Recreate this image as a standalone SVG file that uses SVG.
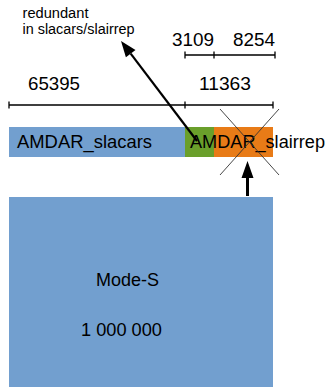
<svg xmlns="http://www.w3.org/2000/svg" width="329" height="387" viewBox="0 0 329 387">
<defs>
<style>
.t{font-family:"Liberation Sans",Arial,sans-serif;fill:#000}
.big{font-size:17.5px}
.sm{font-size:14px}
.dim{stroke:#000;stroke-width:1.3;fill:none}
.cross{stroke:#333;stroke-width:0.9}
.head{fill:#000}
</style>
</defs>
<rect width="329" height="387" fill="#fff"/>
<g id="mode-s">
<rect x="9" y="197" width="264" height="195" fill="#729fcf"/>
<text class="t big" x="96" y="285.5" textLength="63" lengthAdjust="spacingAndGlyphs">Mode-S</text>
<text class="t big" x="81" y="336" textLength="81" lengthAdjust="spacingAndGlyphs">1 000 000</text>
</g>
<g id="slacars">
<rect x="9" y="127" width="176" height="30" fill="#729fcf"/>
<text class="t big" x="17" y="147.5" textLength="135" lengthAdjust="spacingAndGlyphs">AMDAR_slacars</text>
</g>
<g id="overlap">
<rect x="185" y="127" width="29" height="30" fill="#6a9f2b"/>
</g>
<g id="slairrep">
<rect x="214" y="127" width="59" height="30" fill="#e87b17"/>
<text class="t big" x="190" y="147.5" textLength="135" lengthAdjust="spacingAndGlyphs">AMDAR_slairrep</text>
<line class="cross" x1="220" y1="109" x2="279" y2="175"/>
<line class="cross" x1="279" y1="109" x2="220" y2="175"/>
</g>
<g id="dimensions">
<path class="dim" d="M9,105 H273 M9,101.5 V108.5 M185,101.5 V108.5 M273,101.5 V108.5"/>
<path class="dim" d="M185,55 H275 M185,51.5 V58.5 M214,51.5 V58.5 M275,51.5 V58.5"/>
<text class="t big" x="28" y="90" textLength="52" lengthAdjust="spacingAndGlyphs">65395</text>
<text class="t big" x="199" y="90" textLength="52" lengthAdjust="spacingAndGlyphs">11363</text>
<text class="t big" x="172" y="46" textLength="42" lengthAdjust="spacingAndGlyphs">3109</text>
<text class="t big" x="233" y="46" textLength="42" lengthAdjust="spacingAndGlyphs">8254</text>
</g>
<g id="note">
<text class="t sm" x="22.5" y="17.5" textLength="66" lengthAdjust="spacingAndGlyphs">redundant</text>
<text class="t sm" x="22.5" y="33.5" textLength="112" lengthAdjust="spacingAndGlyphs">in slacars/slairrep</text>
</g>
<g id="connectors">
<line x1="197" y1="141" x2="130.7" y2="53.7" stroke="#000" stroke-width="2.2"/>
<path class="head" d="M121,41 L135.5,50.1 L125.9,57.3 z"/>
<line x1="247.5" y1="196" x2="247.5" y2="176" stroke="#000" stroke-width="3"/>
<path class="head" d="M247.5,161 L253.5,178 L241.5,178 z"/>
</g>
</svg>
